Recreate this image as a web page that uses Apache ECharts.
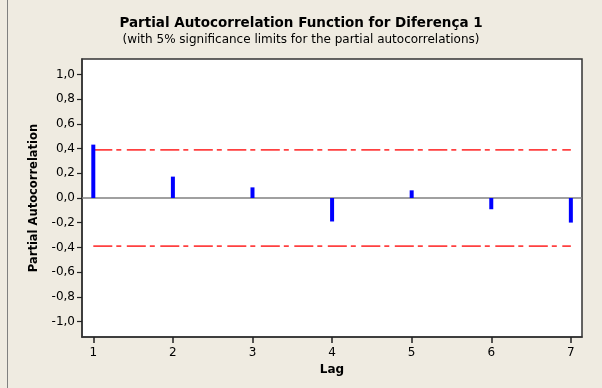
<!DOCTYPE html>
<html>
<head>
<meta charset="utf-8">
<script src="https://cdn.jsdelivr.net/npm/echarts@6/dist/echarts.min.js"></script>
<style>
  html, body { margin: 0; padding: 0; background: #efebe1; }
  #chart { width: 602px; height: 388px; }
</style>
</head>
<body>
<div id="chart"></div>
<script>
// PACF values
const lags = [1, 2, 3, 4, 5, 6, 7];
const pacf = [0.432, 0.173, 0.086, -0.19, 0.062, -0.091, -0.199];
const sigLimit = 0.39;
const yTicks = [-1, -0.8, -0.6, -0.4, -0.2, 0, 0.2, 0.4, 0.6, 0.8, 1];

const font = 'DejaVu Sans';
const chart = echarts.init(document.getElementById('chart'));

const fmt = v => v.toFixed(1).replace('.', ',');
const dashDot = [19, 4, 5, 5.5];

const option = {
  backgroundColor: '#efebe1',
  animation: false,
  title: {
    text: 'Partial Autocorrelation Function for Diferença 1',
    subtext: '(with 5% significance limits for the partial autocorrelations)',
    left: 'center',
    top: 11,
    itemGap: 4,
    textStyle: { fontFamily: font, fontSize: 13.5, fontWeight: 'bold', color: '#000' },
    subtextStyle: { fontFamily: font, fontSize: 12, color: '#000' }
  },
  grid: {
    left: 82, right: 20, top: 59, bottom: 51,
    show: true,
    backgroundColor: '#fff',
    borderColor: '#333',
    borderWidth: 1.5
  },
  xAxis: {
    type: 'value',
    min: 0.858,
    max: 7.14,
    name: 'Lag',
    nameLocation: 'middle',
    nameGap: 27,
    nameTextStyle: { fontFamily: font, fontSize: 12, fontWeight: 'bold', color: '#000' },
    axisLine: { show: true, onZero: false, lineStyle: { color: '#333', width: 1.5 } },
    splitLine: { show: false },
    axisTick: { show: true, length: 6, lineStyle: { color: '#222', width: 1.5 }, customValues: lags },
    axisLabel: { fontFamily: font, fontSize: 12, color: '#000', margin: 10, customValues: lags }
  },
  yAxis: {
    type: 'value',
    min: -1.125,
    max: 1.125,
    name: 'Partial Autocorrelation',
    nameLocation: 'middle',
    nameGap: 42,
    nameTextStyle: { fontFamily: font, fontSize: 11.5, fontWeight: 'bold', color: '#000' },
    axisLine: { show: true, onZero: false, lineStyle: { color: '#333', width: 1.5 } },
    splitLine: { show: false },
    axisTick: { show: true, length: 5, lineStyle: { color: '#222', width: 1.2 }, customValues: yTicks },
    axisLabel: { fontFamily: font, fontSize: 12, color: '#000', margin: 7, customValues: yTicks, formatter: v => fmt(v) }
  },
  series: [
    {
      type: 'line',
      data: [[0.858, 0], [7.14, 0]],
      symbol: 'none',
      silent: true,
      lineStyle: { color: '#808080', width: 1.5 }
    },
    {
      type: 'line',
      data: [[lags[0], sigLimit], [lags[lags.length - 1], sigLimit]],
      symbol: 'none',
      lineStyle: { color: '#ff4040', width: 1.8, type: dashDot }
    },
    {
      type: 'line',
      data: [[lags[0], -sigLimit], [lags[lags.length - 1], -sigLimit]],
      symbol: 'none',
      lineStyle: { color: '#ff4040', width: 1.8, type: dashDot }
    },
    {
      // PACF spikes drawn through the axes' scales
      type: 'custom',
      data: lags.map((l, i) => [l, pacf[i]]),
      encode: { x: 0, y: 1 },
      z: 5,
      renderItem: (params, api) => {
        const top = api.coord([api.value(0), api.value(1)]);
        const base = api.coord([api.value(0), 0]);
        return {
          type: 'rect',
          shape: { x: top[0] - 2, y: Math.min(top[1], base[1]), width: 4, height: Math.abs(base[1] - top[1]) },
          style: { fill: '#0000ff' }
        };
      }
    }
  ],
  graphic: [
    {
      type: 'line',
      shape: { x1: 7.5, y1: 0, x2: 7.5, y2: 388 },
      style: { stroke: '#808080', lineWidth: 1 }
    }
  ]
};

chart.setOption(option);
</script>
</body>
</html>
